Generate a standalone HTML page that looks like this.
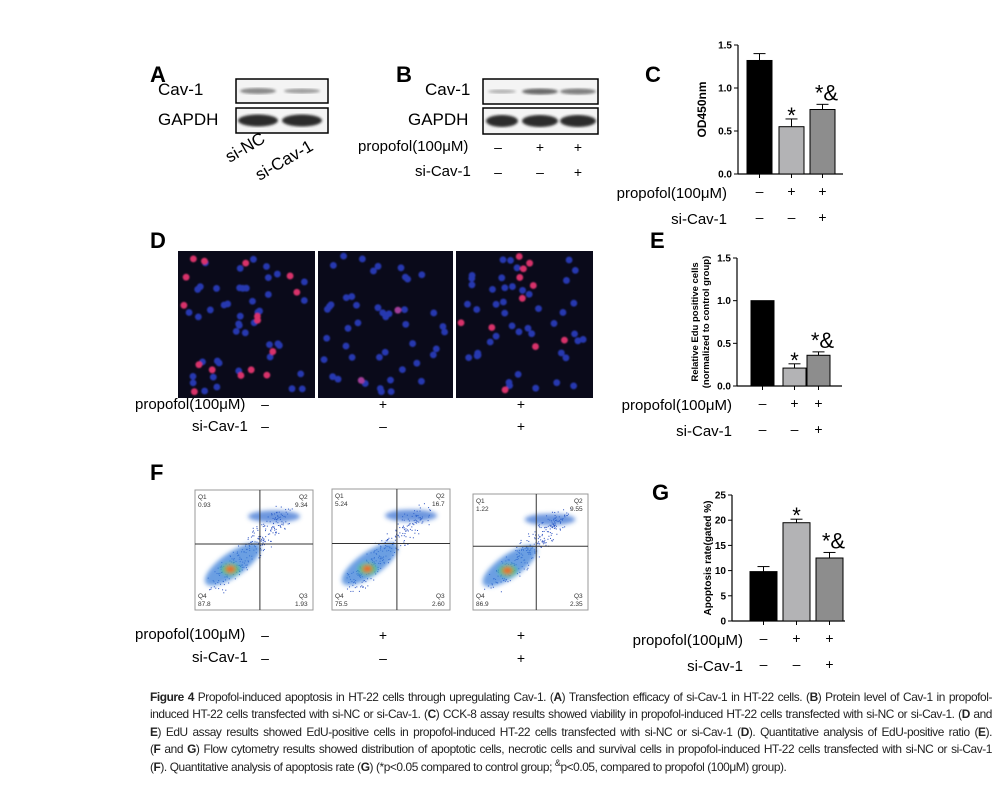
<!DOCTYPE html>
<html><head><meta charset="utf-8">
<style>
body{margin:0;background:#fff;width:997px;height:794px;position:relative;overflow:hidden;font-family:"Liberation Sans",Arial,sans-serif;}
.abs{position:absolute;}
.lbl{position:absolute;font-size:15px;color:#000;white-space:nowrap;}
.pl{position:absolute;font-size:22px;font-weight:bold;}
.cap{position:absolute;left:150px;top:689px;width:842px;font-size:11.9px;letter-spacing:-0.42px;line-height:17.4px;color:#222;}
.cap div{text-align:justify;text-align-last:justify;height:17.4px;overflow:visible;}
.cap div.last{text-align-last:left;}
.cap sup{line-height:0;font-size:9px;}
</style></head><body>
<svg id="svg" class="abs" style="left:0;top:0" width="997" height="794">
<defs>
<filter id="bl"><feGaussianBlur stdDeviation="2"/></filter>
<filter id="bl1"><feGaussianBlur stdDeviation="1.2"/></filter>
<filter id="bl2"><feGaussianBlur stdDeviation="0.9"/></filter>
</defs>
</svg>
<div class="pl" style="left:150px;top:62px">A</div>
<div class="lbl" style="left:158px;top:80px;font-size:17px">Cav-1</div>
<div class="lbl" style="left:158px;top:110px;font-size:17px">GAPDH</div>
<div class="lbl" style="left:222px;top:150px;font-size:17px;transform:rotate(-30deg);transform-origin:left top">si-NC</div>
<div class="lbl" style="left:252px;top:168px;font-size:17px;transform:rotate(-30deg);transform-origin:left top">si-Cav-1</div>
<div class="pl" style="left:396px;top:62px">B</div>
<div class="lbl" style="left:425px;top:80px;font-size:17px">Cav-1</div>
<div class="lbl" style="left:408px;top:110px;font-size:17px">GAPDH</div>
<div class="lbl" style="left:358px;top:138px">propofol(100μM)</div>
<div class="lbl" style="left:415px;top:163px">si-Cav-1</div>
<div class="pl" style="left:645px;top:62px">C</div>
<div class="pl" style="left:150px;top:228px">D</div>
<div class="pl" style="left:650px;top:228px">E</div>
<div class="pl" style="left:150px;top:460px">F</div>
<div class="pl" style="left:652px;top:480px">G</div>
<div class="lbl" style="left:135px;top:396px">propofol(100μM)</div>
<div class="lbl" style="left:192px;top:418px">si-Cav-1</div>
<div class="lbl" style="left:135px;top:626px">propofol(100μM)</div>
<div class="lbl" style="left:192px;top:649px">si-Cav-1</div>
<div class="cap">
<div><b>Figure 4</b> Propofol-induced apoptosis in HT-22 cells through upregulating Cav-1. (<b>A</b>) Transfection efficacy of si-Cav-1 in HT-22 cells. (<b>B</b>) Protein level of Cav-1 in propofol-</div>
<div>induced HT-22 cells transfected with si-NC or si-Cav-1. (<b>C</b>) CCK-8 assay results showed viability in propofol-induced HT-22 cells transfected with si-NC or si-Cav-1. (<b>D</b> and</div>
<div><b>E</b>) EdU assay results showed EdU-positive cells in propofol-induced HT-22 cells transfected with si-NC or si-Cav-1 (<b>D</b>). Quantitative analysis of EdU-positive ratio (<b>E</b>).</div>
<div>(<b>F</b> and <b>G</b>) Flow cytometry results showed distribution of apoptotic cells, necrotic cells and survival cells in propofol-induced HT-22 cells transfected with si-NC or si-Cav-1</div>
<div class="last">(<b>F</b>). Quantitative analysis of apoptosis rate (<b>G</b>) (*p&lt;0.05 compared to control group; <sup>&amp;</sup>p&lt;0.05, compared to propofol (100μM) group).</div>
</div>
<script>
const groups=['control','propofol','propofol+si-Cav-1'];
const propofolSigns=['–','+','+'];
const siSigns=['–','–','+'];
const cValues=[1.32,0.55,0.75];
const cErrors=[0.08,0.09,0.06];
const cTicks=[0,0.5,1.0,1.5];
const eValues=[1.0,0.21,0.36];
const eErrors=[0,0.05,0.04];
const eTicks=[0,0.5,1.0,1.5];
const gValues=[9.8,19.5,12.5];
const gErrors=[1.0,0.7,1.1];
const gTicks=[0,5,10,15,20,25];
const sigMarks=['','*','*&'];
const q1=['0.93','5.24','1.22'],q2=['9.34','16.7','9.55'],q3=['1.93','2.60','2.35'],q4=['87.8','75.5','86.9'];
const NS='http://www.w3.org/2000/svg';
const svg=document.getElementById('svg');
function el(t,a,p){const e=document.createElementNS(NS,t);for(const k in a)e.setAttribute(k,a[k]);(p||svg).appendChild(e);return e;}
function txt(x,y,s,a,p){const e=el('text',Object.assign({x:x,y:y,'font-family':'Liberation Sans, Arial, sans-serif'},a),p);e.textContent=s;return e;}

function blot(x,y,w,h,bands,name){
  const g=el('g',{});
  
  
  el('rect',{x:x,y:y,width:w,height:h,fill:'#f4f4f4',stroke:'#000','stroke-width':1.5},g);
  bands.forEach(b=>{el('ellipse',{cx:b[0],cy:y+h/2,rx:b[1],ry:b[2],fill:'#222',opacity:b[3],filter:'url(#bl1)'},g);});
}
blot(236,79,92,24,[[258,18,3,0.5],[302,18,2.5,0.4]],'blot-a-cav1');
blot(236,108,92,25,[[258,20,6,0.95],[302,20,6,0.95]],'blot-a-gapdh');
blot(483,79,115,25,[[502,14,2,0.3],[540,18,3,0.65],[578,18,3,0.55]],'blot-b-cav1');
blot(483,108,115,26,[[502,16,6,0.95],[540,18,6,0.95],[578,18,6,0.95]],'blot-b-gapdh');
[498,540,578].forEach((x,i)=>{
  txt(x,152,propofolSigns[i],{'font-size':14,'text-anchor':'middle'});
  txt(x,177,siSigns[i],{'font-size':14,'text-anchor':'middle'});
});

function barChart(o){
  const g=el('g',{});
  
  
  const ys=v=>o.y0-(v-o.min)/(o.max-o.min)*(o.y0-o.y1);
  el('line',{x1:o.ax,x2:o.ax,y1:o.y1,y2:o.y0,stroke:'#000','stroke-width':1.2},g);
  el('line',{x1:o.ax,x2:o.axEnd,y1:o.y0,y2:o.y0,stroke:'#000','stroke-width':1.2},g);
  o.ticks.forEach(t=>{const y=ys(t);
    el('line',{x1:o.ax-4,x2:o.ax,y1:y,y2:y,stroke:'#000'},g);
    txt(o.ax-6,y+3.5,o.fmt(t),{'font-size':10,'font-weight':'bold','text-anchor':'end'},g);});
  const fills=['#000','#b3b3b5','#8d8d8d'];
  o.vals.forEach((v,i)=>{
    const x=o.bx[i],w=o.bw,top=ys(v),et=ys(v+o.err[i]);
    const cx=x+w/2;
    if(o.err[i]>0){el('line',{x1:cx,x2:cx,y1:top,y2:et,stroke:'#000'},g);
      el('line',{x1:cx-6,x2:cx+6,y1:et,y2:et,stroke:'#000'},g);}
    const r=el('rect',{x:x,y:top,width:w,height:o.y0-top,fill:fills[i],stroke:'#000','stroke-width':1},g);
    
    
    el('line',{x1:cx,x2:cx,y1:o.y0,y2:o.y0+4,stroke:'#000'},g);
    if(sigMarks[i]) txt(cx+(sigMarks[i].length>1?4:0),et+(sigMarks[i].length>1?-4:4),sigMarks[i],{'font-size':22,'text-anchor':'middle'},g);
    txt(cx,o.y0+22,propofolSigns[i],{'font-size':14,'text-anchor':'middle'},g);
    txt(cx,o.y0+48,siSigns[i],{'font-size':14,'text-anchor':'middle'},g);
  });
  txt(o.lx,o.y0+24,'propofol(100μM)',{'font-size':15,'text-anchor':'end'},g);
  txt(o.lx,o.y0+50,'si-Cav-1',{'font-size':15,'text-anchor':'end'},g);
  const cy=(o.y0+o.y1)/2;
  o.ylab.forEach((l,k)=>{
    const xx=o.ylx+k*11;
    txt(xx,cy,l,{'font-size':o.ylfs,'font-weight':'bold','text-anchor':'middle',transform:'rotate(-90 '+xx+' '+cy+')'},g);
  });
}
barChart({name:'chart-c-od450',ax:738,axEnd:843,y0:174,y1:45,min:0,max:1.5,ticks:cTicks,fmt:t=>t.toFixed(1),vals:cValues,err:cErrors,bx:[747,779,810],bw:25,lx:727,ylab:['OD450nm'],ylx:706,ylfs:12});
barChart({name:'chart-e-edu',ax:737,axEnd:842,y0:386,y1:258,min:0,max:1.5,ticks:eTicks,fmt:t=>t.toFixed(1),vals:eValues,err:eErrors,bx:[751,783,807],bw:23,lx:732,ylab:['Relative Edu positive cells','(normalized to control group)'],ylx:698,ylfs:9.5});
barChart({name:'chart-g-apoptosis',ax:732,axEnd:845,y0:621,y1:495,min:0,max:25,ticks:gTicks,fmt:t=>String(t),vals:gValues,err:gErrors,bx:[750,783,816],bw:27,lx:743,ylab:['Apoptosis rate(gated %)'],ylx:711,ylfs:10});

let seed=7;function rnd(){seed=(seed*9301+49297)%233280;return seed/233280;}
const redCounts=[16,2,11];
const signX=[265,383,521];
[[178,315],[318,453],[456,593]].forEach((p,i)=>{
  const g=el('g',{});
  
  
  el('rect',{x:p[0],y:251,width:p[1]-p[0],height:147,fill:'#0a0a1a'},g);
  const cg=el('g',{filter:'url(#bl2)'},g);
  for(let k=0;k<45;k++) el('circle',{cx:p[0]+5+rnd()*(p[1]-p[0]-10),cy:256+rnd()*137,r:3.4,fill:'#2638b0'},cg);
  for(let k=0;k<redCounts[i];k++) el('circle',{cx:p[0]+5+rnd()*(p[1]-p[0]-10),cy:256+rnd()*137,r:3.4,fill:i==1?'#a33c9a':'#d8306a'},cg);
  txt(signX[i],409,propofolSigns[i],{'font-size':14,'text-anchor':'middle',fill:'#000'});
  txt(signX[i],431,siSigns[i],{'font-size':14,'text-anchor':'middle',fill:'#000'});
});

[[195,490,118,120],[332,489,118,121],[473,494,115,116]].forEach((p,i)=>{
  const [x,y,w,h]=p;const g=el('g',{});
  
  
  el('rect',{x:x,y:y,width:w,height:h,fill:'#fff',stroke:'#999'},g);
  for(let k=0;k<260;k++){
    const t=rnd(),u=rnd()-0.5;
    el('rect',{x:x+w*(0.18+t*0.6)+u*20,y:y+h*(0.78-t*0.6)+(rnd()-0.5)*18,width:1,height:1,fill:'#2a4fc0'},g);
  }
  const cg=el('g',{filter:'url(#bl)'},g);
  el('ellipse',{cx:x+w*0.32,cy:y+h*0.62,rx:w*0.28,ry:h*0.1,fill:'#3b7fd8',opacity:0.75,transform:'rotate(-35 '+(x+w*0.32)+' '+(y+h*0.62)+')'},cg);
  el('ellipse',{cx:x+w*0.67,cy:y+h*0.22,rx:w*0.22,ry:h*0.05,fill:'#2d6bd0',opacity:0.7},cg);
  el('ellipse',{cx:x+w*0.3,cy:y+h*0.66,rx:9,ry:6,fill:'#40c070'},cg);
  el('ellipse',{cx:x+w*0.3,cy:y+h*0.66,rx:5,ry:3.5,fill:'#f06020'},cg);
  el('line',{x1:x+w*0.55,x2:x+w*0.55,y1:y,y2:y+h,stroke:'#333'},g);
  el('line',{x1:x,x2:x+w,y1:y+h*0.45,y2:y+h*0.45,stroke:'#333'},g);
  const a={'font-size':6.5,fill:'#333'};
  txt(x+3,y+9,'Q1',a,g);txt(x+3,y+17,q1[i],a,g);
  txt(x+w-14,y+9,'Q2',a,g);txt(x+w-18,y+17,q2[i],a,g);
  txt(x+3,y+h-12,'Q4',a,g);txt(x+3,y+h-4,q4[i],a,g);
  txt(x+w-14,y+h-12,'Q3',a,g);txt(x+w-18,y+h-4,q3[i],a,g);
  txt(signX[i],640,propofolSigns[i],{'font-size':14,'text-anchor':'middle'});
  txt(signX[i],663,siSigns[i],{'font-size':14,'text-anchor':'middle'});
});
</script>
</body></html>
